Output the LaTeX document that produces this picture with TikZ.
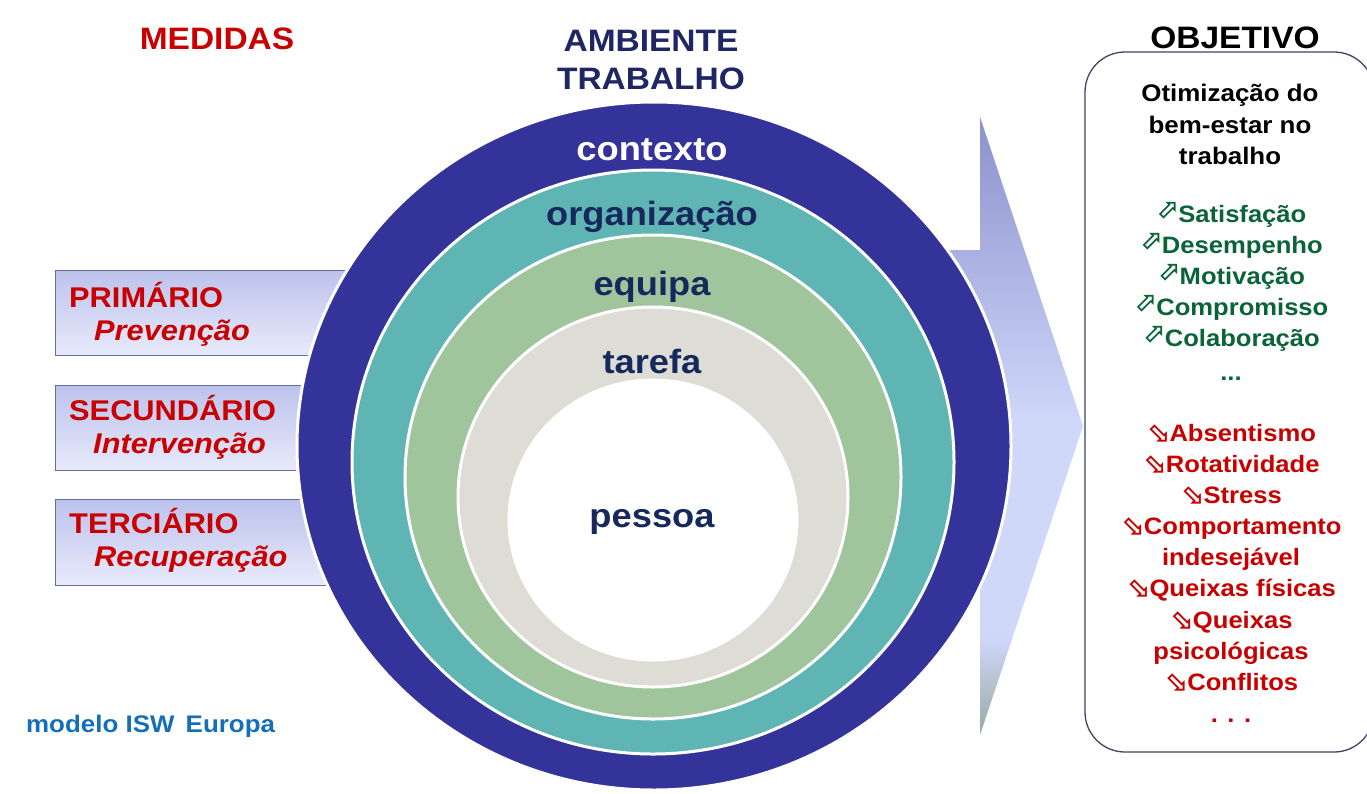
\documentclass[tikz,border=0pt]{standalone}
\usepackage{fontspec}
\setmainfont{Liberation Sans}[FakeStretch=1.08]
\newfontfamily\symfont{DejaVu Sans}
\usetikzlibrary{shapes.geometric}
\definecolor{ringA}{RGB}{51,51,153}
\definecolor{ringB}{RGB}{95,180,180}
\definecolor{ringC}{RGB}{160,197,157}
\definecolor{ringD}{RGB}{221,221,214}
\definecolor{navy}{RGB}{22,40,92}
\definecolor{titlenavy}{RGB}{30,38,100}
\definecolor{medred}{RGB}{200,0,0}
\definecolor{okgreen}{RGB}{10,100,55}
\definecolor{isblue}{RGB}{20,110,185}
\definecolor{boxtop}{RGB}{188,194,236}
\definecolor{boxbot}{RGB}{232,234,251}
\definecolor{boxline}{RGB}{100,110,150}
\definecolor{arrtop}{RGB}{140,145,205}
\definecolor{arrlight}{RGB}{208,216,250}
\definecolor{arrbot}{RGB}{150,170,165}
\definecolor{panelline}{RGB}{60,70,100}
\pgfdeclareverticalshading{arrowshade}{100bp}{color(0bp)=(arrbot); color(25bp)=(arrbot); color(33bp)=(arrlight); color(50bp)=(arrlight); color(75bp)=(arrtop); color(100bp)=(arrtop)}
\newcommand\setfs[1]{\fontsize{#1}{#1}\selectfont}
\newcommand\goodarrow{{\symfont\setfs{27}\raisebox{4pt}{⬀}}}
\newcommand\badarrow{{\symfont\setfs{28}⬂}}
\tikzset{
  ring/.style={draw=white, line width=3pt},
  levelbox/.style={draw=boxline, line width=0.8pt, top color=boxtop, bottom color=boxbot},
  lvl/.style={anchor=base west, inner sep=0pt, text=medred, font=\bfseries\setfs{28.5}},
  lvlsub/.style={anchor=base west, inner sep=0pt, text=medred, font=\bfseries\itshape\setfs{28.5}},
  ringlabel/.style={anchor=base, inner sep=0pt, text=navy, font=\bfseries\setfs{33.6}},
  titletext/.style={anchor=base, inner sep=0pt, font=\bfseries\setfs{31}},
  goal/.style={anchor=base, inner sep=0pt, text=black, font=\bfseries\setfs{24}},
  good/.style={anchor=base, inner sep=0pt, text=okgreen, font=\bfseries\setfs{23.7}},
  bad/.style={anchor=base, inner sep=0pt, text=medred, font=\bfseries\setfs{23.7}},
}
\begin{document}
\begin{tikzpicture}[x=1pt, y=-1pt]
\useasboundingbox (0,0) rectangle (1367,793);
\clip (0,0) rectangle (1367,793);
\fill[white] (0,0) rectangle (1367,793);

% big arrow behind the circle
\shade[shading=arrowshade] (900,250) -- (980,250) -- (980,117) -- (1083,426) -- (980,735) -- (980,590) -- (900,590) -- cycle;

% level boxes
\path[levelbox] (55,270) rectangle (420,355);
\path[levelbox] (55,385) rectangle (420,470);
\path[levelbox] (55,499) rectangle (420,585);

% rings
\draw[ring, fill=ringA] (654,446) ellipse [x radius=357pt, y radius=344pt];
\draw[ring, fill=ringB] (653,462) ellipse [x radius=301pt, y radius=292pt];
\draw[ring, fill=ringC] (653,477) ellipse [x radius=248pt, y radius=242pt];
\draw[ring, fill=ringD] (653,497) ellipse [x radius=195pt, y radius=190pt];
\draw[ring, fill=white] (653,520) ellipse [x radius=144pt, y radius=140pt];

% titles
\node[titletext, text=medred] (medidas) at (217,49) {MEDIDAS};
\node[titletext, text=titlenavy] (amb1) at (651,51) {AMBIENTE};
\node[titletext, text=titlenavy] (amb2) at (651,89) {TRABALHO};
\node[titletext, text=black] (objetivo) at (1235,48) {OBJETIVO};

% ring labels
\node[ringlabel, text=white] (contexto) at (652,160) {contexto};
\node[ringlabel] (organizacao) at (652,225) {organização};
\node[ringlabel] (equipa) at (652,295) {equipa};
\node[ringlabel] (tarefa) at (652,373) {tarefa};
\node[ringlabel] (pessoa) at (652,527) {pessoa};

% level labels
\node[lvl] (prim) at (69,307) {PRIMÁRIO};
\node[lvlsub] (prev) at (94,340) {Prevenção};
\node[lvl] (sec) at (69,420) {SECUNDÁRIO};
\node[lvlsub] (interv) at (93,453) {Intervenção};
\node[lvl] (ter) at (69,533) {TERCIÁRIO};
\node[lvlsub] (recup) at (94,566) {Recuperação};

\node[anchor=base west, inner sep=0pt, text=isblue, font=\bfseries\setfs{24}] (modelo) at (26,732) {modelo ISW\, Europa};

% objective panel
\draw[panelline, line width=1.3pt, rounded corners=40pt] (1085,52) rectangle (1374,752);
\node[goal] (g1) at (1230,101) {Otimização do};
\node[goal] (g2) at (1230,133) {bem-estar no};
\node[goal] (g3) at (1230,164) {trabalho};

\node[good] (p1) at (1231,222) {\goodarrow Satisfação};
\node[good] (p2) at (1231,253) {\goodarrow Desempenho};
\node[good] (p3) at (1231,284) {\goodarrow Motivação};
\node[good] (p4) at (1231,315) {\goodarrow Compromisso};
\node[good] (p5) at (1231,346) {\goodarrow Colaboração};
\node[good] (p6) at (1231,380) {...};

\node[bad] (n1) at (1231,441) {\badarrow Absentismo};
\node[bad] (n2) at (1231,472) {\badarrow Rotatividade};
\node[bad] (n3) at (1231,503) {\badarrow Stress};
\node[bad] (n4) at (1231,534) {\badarrow Comportamento};
\node[bad] (n5) at (1231,565) {indesejável};
\node[bad] (n6) at (1231,596) {\badarrow Queixas físicas};
\node[bad] (n7) at (1231,628) {\badarrow Queixas};
\node[bad] (n8) at (1231,659) {psicológicas};
\node[bad] (n9) at (1231,690) {\badarrow Conflitos};
\node[bad] (n10) at (1231,722) {. . .};
\end{tikzpicture}
\end{document}
